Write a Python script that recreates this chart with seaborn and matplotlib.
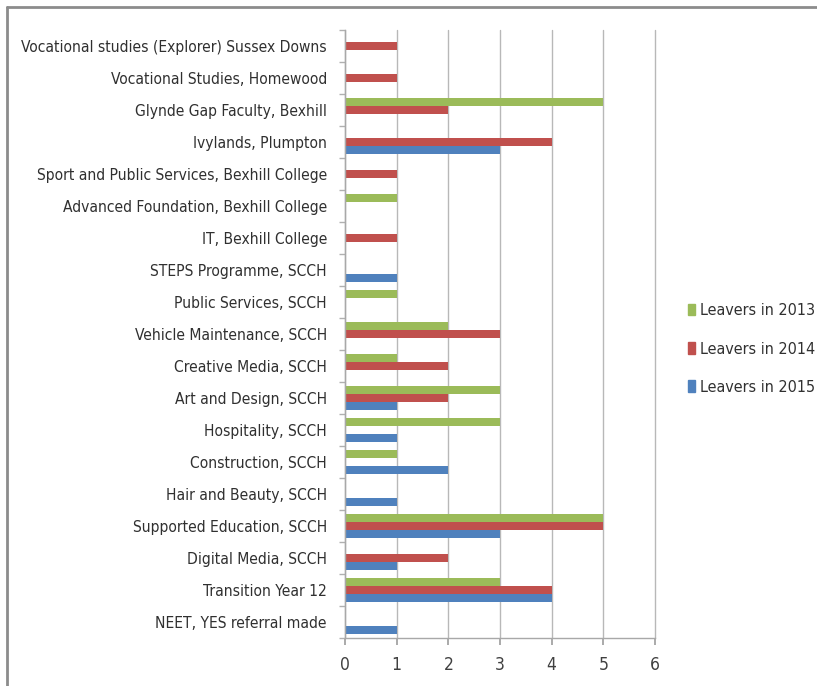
import matplotlib
matplotlib.use("Agg")
import matplotlib.pyplot as plt
import seaborn as sns
import pandas as pd
import numpy as np
from matplotlib.lines import Line2D
from matplotlib import font_manager

categories = [
    "Vocational studies (Explorer) Sussex Downs",
    "Vocational Studies, Homewood",
    "Glynde Gap Faculty, Bexhill",
    "Ivylands, Plumpton",
    "Sport and Public Services, Bexhill College",
    "Advanced Foundation, Bexhill College",
    "IT, Bexhill College",
    "STEPS Programme, SCCH",
    "Public Services, SCCH",
    "Vehicle Maintenance, SCCH",
    "Creative Media, SCCH",
    "Art and Design, SCCH",
    "Hospitality, SCCH",
    "Construction, SCCH",
    "Hair and Beauty, SCCH",
    "Supported Education, SCCH",
    "Digital Media, SCCH",
    "Transition Year 12",
    "NEET, YES referral made",
]
leavers_2013 = [0, 0, 5, 0, 0, 1, 0, 0, 1, 2, 1, 3, 3, 1, 0, 5, 0, 3, 0]
leavers_2014 = [1, 1, 2, 4, 1, 0, 1, 0, 0, 3, 2, 2, 0, 0, 0, 5, 2, 4, 0]
leavers_2015 = [0, 0, 0, 3, 0, 0, 0, 1, 0, 0, 0, 1, 1, 2, 1, 3, 1, 4, 1]
series_names = ["Leavers in 2013", "Leavers in 2014", "Leavers in 2015"]
colors = ["#9BBB59", "#C0504D", "#4F81BD"]
x_ticks = [0, 1, 2, 3, 4, 5, 6]

rows = []
for name, vals in zip(series_names, [leavers_2013, leavers_2014, leavers_2015]):
    for c, v in zip(categories, vals):
        rows.append({"Course": c, "Series": name, "Value": v})
df = pd.DataFrame(rows)

sns.set_theme(style="white")

# look for a condensed / narrow face (Calibri-like proportions)
cond = None
for f in font_manager.fontManager.ttflist:
    fn = f.fname.lower()
    if ("condensed" in fn or "narrow" in fn) and "bold" not in fn and "oblique" not in fn \
            and "italic" not in fn and f.weight in (400, "normal", "regular"):
        if cond is None or "dejavusanscondensed" in fn.replace("-", "").replace("_", ""):
            cond = f
if cond is not None:
    fp = font_manager.FontProperties(fname=cond.fname)
    lab_size, leg_size, tick_size = 11.2, 11.5, 12.5
else:
    fp = font_manager.FontProperties(family="Liberation Sans")
    lab_size, leg_size, tick_size = 10, 9.5, 11.5
plt.rcParams["font.family"] = ["Liberation Sans", "DejaVu Sans"]

fig = plt.figure(figsize=(8.17, 6.86), dpi=100)
ax = fig.add_axes([345/817, 1 - 638/686, 310/817, (638 - 30)/686])

sns.barplot(data=df, y="Course", x="Value", hue="Series", order=categories,
            hue_order=series_names, palette=colors, orient="h", width=0.75,
            linewidth=0, errorbar=None, ax=ax, saturation=1)

ax.set_xlim(0, 6)
ax.set_xticks(x_ticks)
ax.set_xlabel("")
ax.set_ylabel("")
ax.tick_params(axis="y", length=0, pad=13)
ax.tick_params(axis="x", length=5, color="#a0a0a0", pad=8, direction="out", bottom=True)
for t in ax.get_yticklabels():
    t.set_fontproperties(fp)
    t.set_fontsize(lab_size)
    t.set_color("#303030")
for t in ax.get_xticklabels():
    t.set_fontproperties(fp)
    t.set_fontsize(tick_size)
    t.set_color("#404040")
ax.xaxis.grid(True, color="#b8b8b8", linewidth=1)
for gl in ax.get_xgridlines():
    gl.set_clip_on(False)
ax.set_axisbelow(True)
for s in ["top", "right"]:
    ax.spines[s].set_visible(False)
for s in ["left", "bottom"]:
    ax.spines[s].set_color("#a8a8a8")
    ax.spines[s].set_linewidth(1)

n = len(categories)
ax.set_yticks(np.arange(n + 1) - 0.5, minor=True)
ax.tick_params(axis="y", which="minor", length=4, color="#b0b0b0", left=True)

leg = ax.get_legend()
if leg is not None:
    leg.remove()
handles = [plt.Rectangle((0, 0), 1, 1, color=c) for c in colors]
lp = fp.copy()
lp.set_size(leg_size)
fig.legend(handles, series_names, loc="center left", bbox_to_anchor=(685/817, 1 - 349/686),
           frameon=False, prop=lp, handlelength=0.45, handleheight=0.7,
           handletextpad=0.3, labelspacing=1.45, labelcolor="#303030",
           borderaxespad=0, borderpad=0.2)

fig.add_artist(Line2D([7/817, 7/817], [0, 1 - 7/686], color="#8c8c8c", linewidth=2,
                      transform=fig.transFigure))
fig.add_artist(Line2D([7/817, 1], [1 - 7/686, 1 - 7/686], color="#8c8c8c", linewidth=2,
                      transform=fig.transFigure))

fig.savefig("out.png", dpi=100)
